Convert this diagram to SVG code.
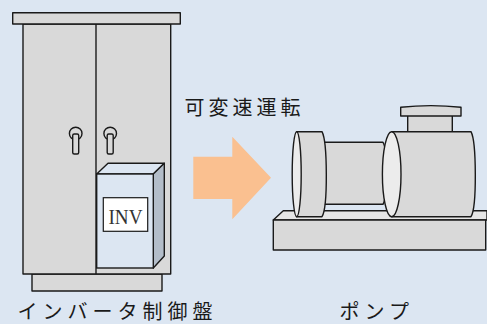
<svg xmlns="http://www.w3.org/2000/svg" width="487" height="324" viewBox="0 0 487 324">
  <style>
    .part { fill: #d9d9d9; stroke: #1a1a1a; stroke-width: 1.4; stroke-linejoin: round; }
    .light { fill: #ececec; stroke: #1a1a1a; stroke-width: 1.4; }
    .label { font-family: "Noto Sans CJK JP", "Noto Sans", sans-serif; font-size: 20px; fill: #1a1a1a; }
  </style>
  <rect x="0" y="0" width="487" height="324" fill="#dce6f2"/>

  <!-- inverter control cabinet -->
  <g id="cabinet">
    <rect class="part" x="32" y="274" width="130" height="17"/>
    <rect class="part" x="23" y="24" width="147.7" height="250"/>
    <rect class="part" x="12.7" y="12.7" width="167.6" height="11.3"/>
    <line x1="96" y1="24" x2="96" y2="274" stroke="#1a1a1a" stroke-width="1.4"/>
    <!-- door handles -->
    <circle class="part" cx="75.7" cy="133.5" r="6.3"/>
    <rect class="part" x="72.7" y="134" width="6" height="20" rx="1.5"/>
    <circle class="part" cx="110.2" cy="133.5" r="6.3"/>
    <rect class="part" x="107.2" y="134" width="6" height="20" rx="1.5"/>
  </g>

  <!-- inverter unit -->
  <g id="inverter">
    <polygon points="96.7,174 108,163.3 164.3,163.3 153.3,174" fill="#dce6f2" stroke="#1a1a1a" stroke-width="1.4" stroke-linejoin="round"/>
    <polygon points="153.3,174 164.3,163.3 164.3,256 153.3,268" fill="#b3bdc9" stroke="#1a1a1a" stroke-width="1.4" stroke-linejoin="round"/>
    <rect x="96.7" y="174" width="56.6" height="94" fill="#dce6f2" stroke="#1a1a1a" stroke-width="1.4"/>
    <rect x="103.3" y="197.7" width="44.4" height="33.6" fill="#ffffff" stroke="#1a1a1a" stroke-width="1.2"/>
    <text x="125.5" y="224" font-family="Liberation Serif, serif" font-size="21" fill="#333333" text-anchor="middle" textLength="34" lengthAdjust="spacingAndGlyphs">INV</text>
  </g>

  <!-- transition arrow -->
  <g id="connectors">
    <polygon points="193.3,156.7 232.3,156.7 232.3,136.7 271,177.8 232.3,219.3 232.3,199 193.3,199" fill="#fac090"/>
  </g>

  <!-- pump on its base -->
  <g id="pump">
    <polygon points="273.3,220 283.3,210.7 487,210.7 487,220" fill="#e6e6e6" stroke="#1a1a1a" stroke-width="1.4" stroke-linejoin="round"/>
    <rect class="part" x="273.3" y="220" width="212.4" height="30"/>
    <!-- discharge nozzle -->
    <rect class="part" x="407.7" y="114" width="44.6" height="18"/>
    <path class="part" d="M400.7,107.3 Q430.8,104 461,107.3 V116 H400.7 Z"/>
    <!-- coupling shaft -->
    <path class="part" d="M320,142.3 H383 C388,152 388,195 383,204.3 H320 Z"/>
    <!-- motor end -->
    <path class="part" d="M296.7,131.7 H322 C327.5,142 328,207 322,216.7 H296.7 Z"/>
    <ellipse class="light" cx="296.7" cy="174.2" rx="4.5" ry="42.5"/>
    <!-- pump casing -->
    <path class="part" d="M391.7,131.7 H471 C476.5,142 477,207 471,216.7 H391.7 Z"/>
    <ellipse class="light" cx="391.7" cy="174.2" rx="9.3" ry="42.5"/>
  </g>

  <g id="labels">
    <text class="label" x="184.5" y="115" letter-spacing="4">可変速運転</text>
    <text class="label" x="17.5" y="319" letter-spacing="5">インバータ制御盤</text>
    <text class="label" x="339.5" y="319" letter-spacing="5">ポンプ</text>
  </g>
</svg>
